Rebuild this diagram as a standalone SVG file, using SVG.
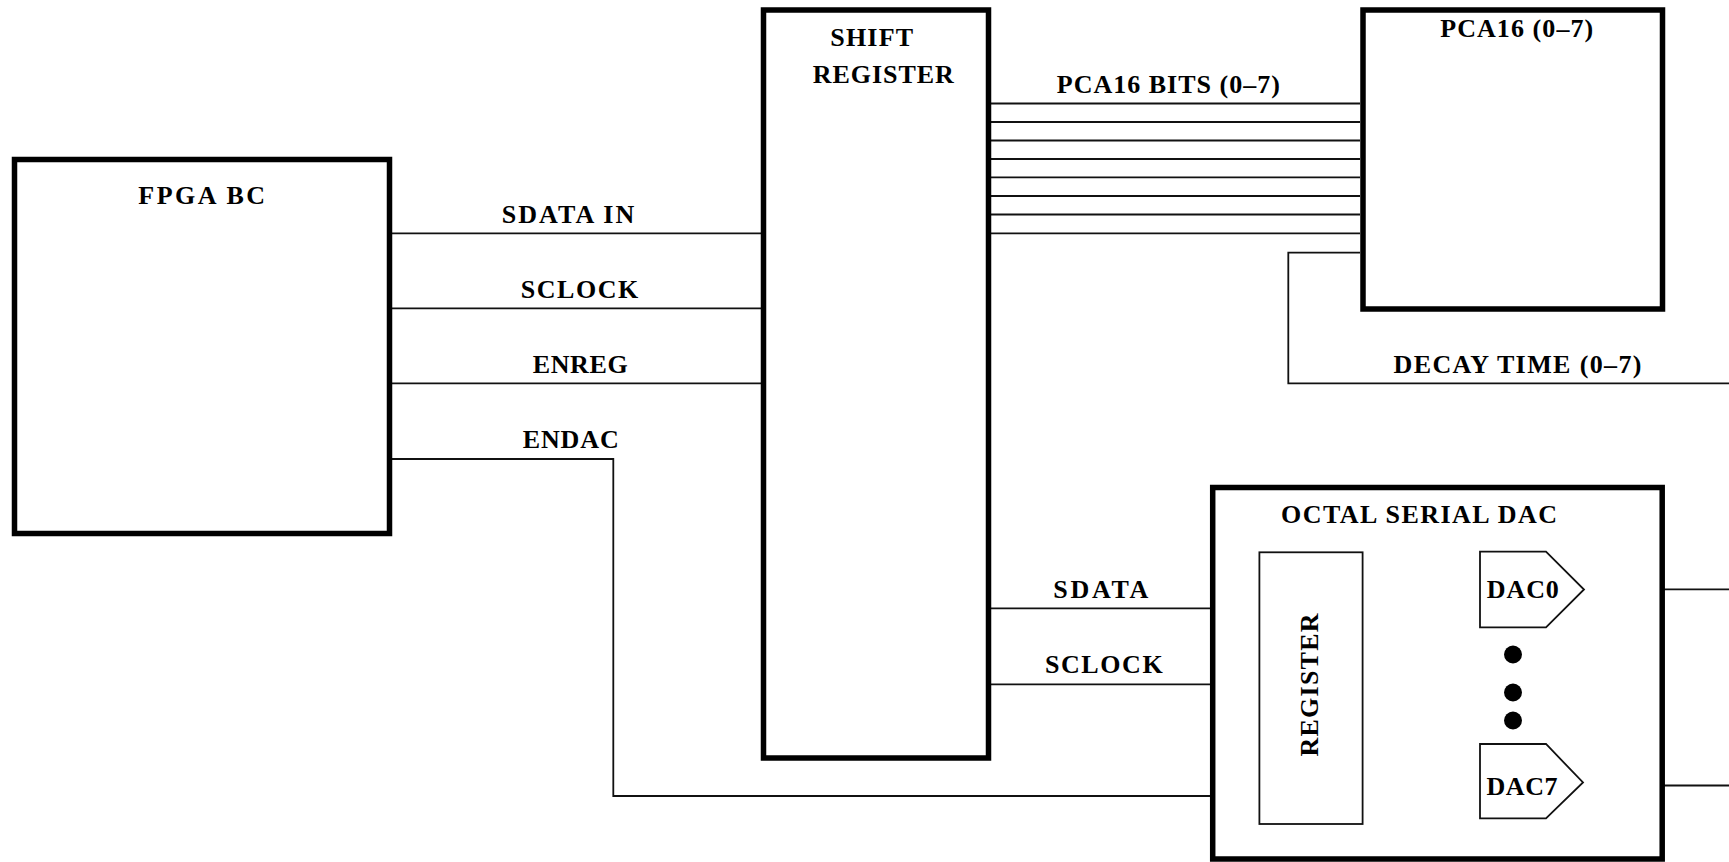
<svg xmlns="http://www.w3.org/2000/svg" width="1729" height="862" viewBox="0 0 1729 862">
<style>
.box{fill:#fff;stroke:#000;stroke-width:5.5}
.thin{fill:#fff;stroke:#111;stroke-width:1.8}
.wire{fill:none;stroke:#111;stroke-width:1.8}
text{font-family:"Liberation Serif","Times New Roman",serif;font-weight:bold;font-size:26px;fill:#000;text-anchor:middle}
</style>
<rect width="1729" height="862" fill="#fff"/>
<g id="connectors">
<path class="wire" d="M392 233.3H761 M392 308.3H761 M392 383.3H761"/>
<path class="wire" d="M392 459H613.3V796H1259.4"/>
<path class="wire" d="M990.7 103.5H1360 M990.7 122H1360 M990.7 140.5H1360 M990.7 159H1360 M990.7 177.3H1360 M990.7 196H1360 M990.7 214.5H1360 M990.7 233.3H1360"/>
<path class="wire" d="M1360 252.7H1288.3V383.3H1729"/>
<path class="wire" d="M990.7 608.3H1259.4 M990.7 684.3H1259.4"/>
<path class="wire" d="M1362.6 589.3H1480 M1584 589.3H1729"/>
<path class="wire" d="M1362.6 785.5H1480 M1582 785.5H1729"/>
</g>
<g id="fpga">
<rect class="box" x="14.5" y="159.5" width="375" height="374"/>
<text x="201.7" y="204" textLength="126.7">FPGA BC</text>
</g>
<g id="shift-register">
<rect class="box" x="763.5" y="10" width="225" height="748"/>
<text x="871.7" y="45.7" textLength="83">SHIFT</text>
<text x="883.3" y="82.7" textLength="141">REGISTER</text>
</g>
<g id="pca16">
<rect class="box" x="1363" y="10" width="299.5" height="299"/>
<text x="1516.7" y="36.7" textLength="153">PCA16 (0–7)</text>
</g>
<g id="octal-dac">
<rect class="box" x="1212.7" y="487.5" width="449.5" height="371.5"/>
<text x="1419" y="523" textLength="276">OCTAL SERIAL DAC</text>
</g>
<g id="register">
<rect class="thin" x="1259.4" y="552.3" width="103.2" height="271.7"/>
<text transform="translate(1318 685) rotate(-90)" x="0" y="0" textLength="143">REGISTER</text>
</g>
<g id="dac0">
<path class="thin" d="M1480 551.7H1546L1584 589.5L1546 627.3H1480Z"/>
<text x="1522.8" y="597.5" textLength="72">DAC0</text>
</g>
<g id="dac7">
<path class="thin" d="M1480 744H1546L1583 782.5L1546 818.3H1480Z"/>
<text x="1522" y="795" textLength="71">DAC7</text>
</g>
<g id="dots">
<circle cx="1513" cy="654.5" r="9"/>
<circle cx="1513" cy="692.5" r="9"/>
<circle cx="1513" cy="720.5" r="9"/>
</g>
<g id="labels">
<text x="568" y="223.3" textLength="132.6">SDATA IN</text>
<text x="579.5" y="298.3" textLength="117.6">SCLOCK</text>
<text x="580.2" y="372.7" textLength="95">ENREG</text>
<text x="570.7" y="448.3" textLength="96">ENDAC</text>
<text x="1168.3" y="92.7" textLength="223">PCA16 BITS (0–7)</text>
<text x="1517.5" y="373.3" textLength="248">DECAY TIME (0–7)</text>
<text x="1100.8" y="598.3" textLength="95">SDATA</text>
<text x="1103.8" y="673.3" textLength="117.7">SCLOCK</text>
</g>
</svg>
